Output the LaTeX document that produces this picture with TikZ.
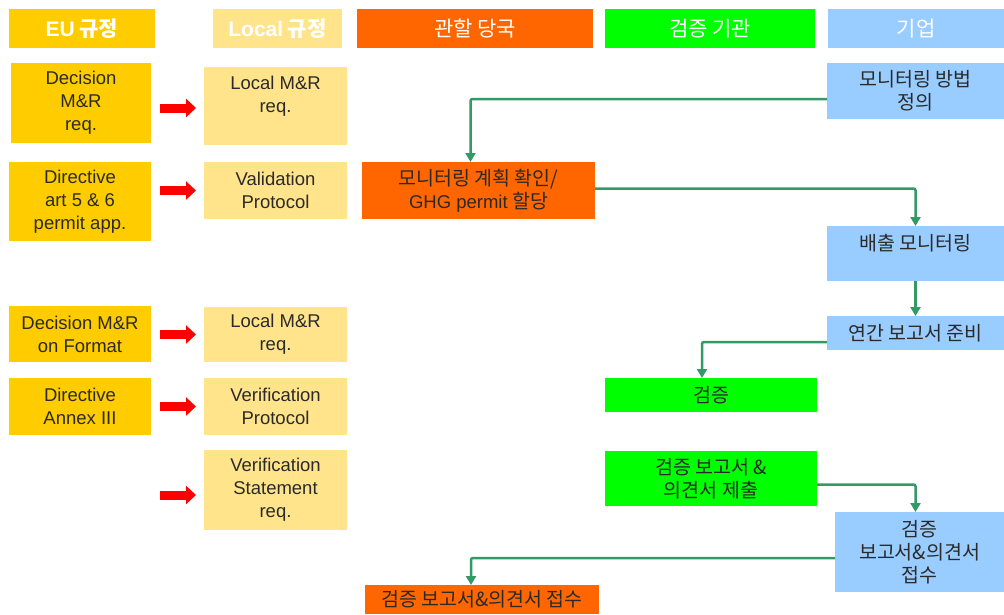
\documentclass[tikz,border=0pt]{standalone}
\usepackage{fontspec}
\setmainfont{Liberation Sans}
\newfontfamily\kr{Noto Sans CJK KR}
\usetikzlibrary{arrows.meta}
\definecolor{eugold}{HTML}{FFCC00}
\definecolor{locyel}{HTML}{FFE48C}
\definecolor{authcol}{HTML}{FF6600}
\definecolor{verifcol}{HTML}{00FF00}
\definecolor{compcol}{HTML}{99CCFF}
\definecolor{flowcol}{HTML}{339966}
\definecolor{txtcol}{HTML}{2A2A2A}
\begin{document}
\begin{tikzpicture}[x=1pt,y=-1pt,
  box/.style={inner sep=0pt, outer sep=0pt, anchor=north west, align=center, text=txtcol, font=\fontsize{18.5}{23}\selectfont},
  krbox/.style={box, font=\kr\fontsize{19.5}{23}\selectfont},
  hdr/.style={box, text=white, minimum height=39pt, font=\kr\fontsize{21}{23}\selectfont},
  redarr/.style={draw=red, line width=9pt, -{Triangle[length=10pt,width=18pt]}, shorten <=9pt, shorten >=8pt},
  flowarr/.style={draw=flowcol, line width=2.5pt, -{Triangle[length=9pt,width=10pt]}, rounded corners=2pt}]
\useasboundingbox (0,0) rectangle (1004,614);
\fill[white] (0,0) rectangle (1004,614);
% headers
\node[hdr, fill=eugold, minimum width=146pt] (h1) at (9,9) {{\rmfamily\bfseries EU} {\bfseries 규정}};
\node[hdr, fill=locyel, minimum width=129pt] (h2) at (213,9) {{\rmfamily\bfseries Local} {\bfseries 규정}};
\node[hdr, fill=authcol, minimum width=236pt] (h3) at (357,9) {관할 당국};
\node[hdr, fill=verifcol, minimum width=210pt] (h4) at (605,9) {검증 기관};
\node[hdr, fill=compcol, minimum width=176pt] (h5) at (828,9) {기업};
% EU / local column
\node[box, fill=eugold, minimum width=140pt, minimum height=80pt] (eu1) at (11,63) {Decision\\M\&R\\req.};
\node[box, fill=locyel, minimum width=143pt, minimum height=78pt] (loc1) at (204,67) {Local M\&R\\req.\\\mbox{}};
\node[box, fill=eugold, minimum width=142pt, minimum height=79pt] (eu2) at (9,162) {Directive\\art 5 \& 6\\permit app.};
\node[box, fill=locyel, minimum width=143pt, minimum height=57pt] (loc2) at (204,162) {Validation\\Protocol};
\node[box, fill=eugold, minimum width=142pt, minimum height=56pt] (eu3) at (9,306) {Decision M\&R\\on Format};
\node[box, fill=locyel, minimum width=143pt, minimum height=55pt] (loc3) at (204,307) {Local M\&R\\req.};
\node[box, fill=eugold, minimum width=142pt, minimum height=57pt] (eu4) at (9,378) {Directive\\Annex III};
\node[box, fill=locyel, minimum width=143pt, minimum height=57pt] (loc4) at (204,378) {Verification\\Protocol};
\node[box, fill=locyel, minimum width=143pt, minimum height=80pt] (loc5) at (204,450) {Verification\\Statement\\req.};
\coordinate (s5) at (151,495);
\draw[redarr] ([yshift=-2pt]eu1.east |- loc1.west) -- ([yshift=-2pt]loc1.west);
\draw[redarr] (eu2.east |- loc2.west) -- (loc2.west);
\draw[redarr] (eu3.east |- loc3.west) -- (loc3.west);
\draw[redarr] (eu4.east |- loc4.west) -- (loc4.west);
\draw[redarr] (s5) -- (s5 -| loc5.west);
% process flow
\node[krbox, fill=compcol, minimum width=177pt, minimum height=56pt] (c1) at (827,63) {모니터링 방법\\정의};
\node[krbox, fill=authcol, minimum width=233pt, minimum height=57pt] (a1) at (362,162) {모니터링 계획 확인/\\{\rmfamily\fontsize{18.5}{23}\selectfont GHG permit} 할당};
\node[krbox, fill=compcol, minimum width=177pt, minimum height=55pt] (c2) at (827,226) {배출 모니터링\\\mbox{}};
\node[krbox, fill=compcol, minimum width=177pt, minimum height=34pt] (c3) at (827,316) {연간 보고서 준비};
\node[krbox, fill=verifcol, minimum width=212pt, minimum height=34pt] (v1) at (605,378) {검증};
\node[krbox, fill=verifcol, minimum width=212pt, minimum height=55pt] (v2) at (605,451) {검증 보고서 \&\\의견서 제출};
\node[krbox, fill=compcol, minimum width=169pt, minimum height=80pt] (c4) at (835,512) {검증\\보고서\&의견서\\접수};
\node[krbox, fill=authcol, minimum width=234pt, minimum height=29pt] (a2) at (365,585) {검증 보고서\&의견서 접수};
\draw[flowarr] ([yshift=-8pt]c1.west) -| ([xshift=-8pt]a1.north);
\draw[flowarr] ([yshift=2pt]a1.east) -| (c2.north);
\draw[flowarr] (c2.south) -- (c3.north);
\draw[flowarr] ([yshift=-9pt]c3.west) -| ([xshift=-9pt]v1.north);
\draw[flowarr] ([yshift=-6pt]v2.east) -| ([xshift=-4pt]c4.north);
\draw[flowarr] ([yshift=-6pt]c4.west) -| ([xshift=-11pt]a2.north);
\end{tikzpicture}
\end{document}
